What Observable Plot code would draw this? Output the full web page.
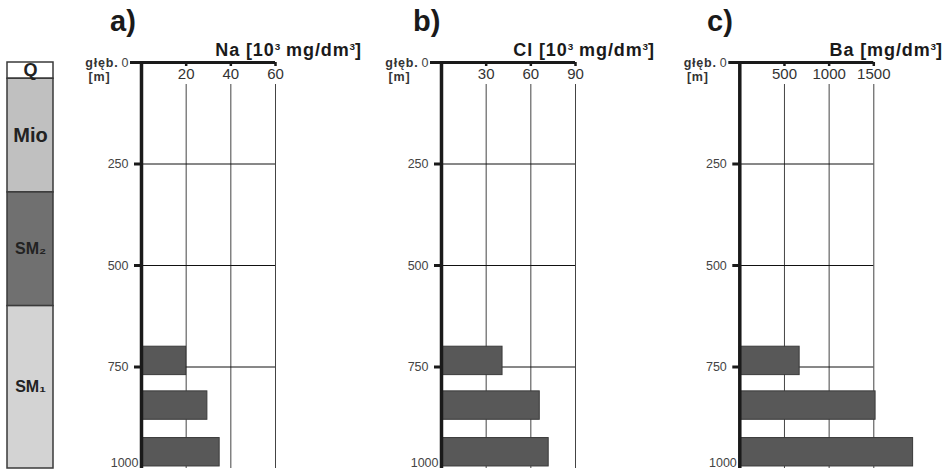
<!DOCTYPE html>
<html>
<head>
<meta charset="utf-8">
<script src="https://cdn.jsdelivr.net/npm/d3@7"></script>
<script src="https://cdn.jsdelivr.net/npm/@observablehq/plot@0.6"></script>
<style>
  html, body { margin: 0; padding: 0; background: #fff; }
  #wrap { position: relative; width: 949px; height: 469px; overflow: hidden; font-family: "Liberation Sans", Arial, sans-serif; }
  #wrap svg { position: absolute; top: 0; }
  .ptitle { position: absolute; font-weight: bold; font-size: 29px; line-height: 1; color: #1a1a1a; }
  .atitle { position: absolute; font-weight: bold; font-size: 18px; line-height: 1; color: #1a1a1a; white-space: nowrap; text-align: right; letter-spacing: 0.9px; }
  .atitle .sup { font-size: 0.55em; position: relative; top: -0.65em; letter-spacing: 0; }
  text.spaced { letter-spacing: 0.8px; }
</style>
</head>
<body>
<div id="wrap"></div>
<script>
// ---- data ----
const depthTop = [700, 810, 925];
const depthBottom = [770, 880, 995];
const naValues = [20, 29.5, 35];
const clValues = [41, 66, 72];
const baValues = [670, 1520, 1940];
const naTicks = [20, 40, 60];
const clTicks = [30, 60, 90];
const baTicks = [500, 1000, 1500];
const depthTicks = [0, 250, 500, 750, 1000];
const stratNames = ["Q", "Mio", "SM\u2082", "SM\u2081"];
const stratTop = [0, 40, 320, 600];
const stratBottom = [40, 320, 600, 1000];

// ---- styles ----
const stratFills = ["#ffffff", "#c0c0c0", "#707070", "#d3d3d3"];
const stratFontSize = [18, 20, 16, 16];
const FONT = "'Liberation Sans', Arial, sans-serif";
const wrap = document.getElementById("wrap");

// stratigraphic column
const strat = stratNames.map((n, i) => ({name: n, top: stratTop[i], bottom: stratBottom[i], mid: (stratTop[i] + stratBottom[i]) / 2, fill: stratFills[i], fs: stratFontSize[i]}));
const stratPlot = Plot.plot({
  width: 60, height: 469, marginTop: 62, marginBottom: 1, marginLeft: 7, marginRight: 7,
  x: {domain: [0, 1], axis: null},
  y: {domain: [0, 1000], reverse: true, axis: null},
  style: {fontFamily: FONT, background: "transparent", overflow: "visible"},
  marks: [
    Plot.rect(strat, {x1: 0, x2: 1, y1: "top", y2: "bottom", fill: d => d.fill, stroke: "#3a3a3a", strokeWidth: 1.5}),
    ...strat.map(d => Plot.text([d], {x: 0.5, y: "mid", text: "name", fontSize: d.fs, fontWeight: "bold", fill: "#222"}))
  ]
});
stratPlot.style.left = "0px";
wrap.appendChild(stratPlot);

function panel(left, width, marginLeft, marginRight, xMax, ticks, values) {
  const rows = values.map((v, i) => ({v, top: depthTop[i], bottom: depthBottom[i]}));
  const inner = depthTicks.filter(d => d > 0 && d < 1000);
  const p = Plot.plot({
    width, height: 469, marginTop: 62, marginBottom: 1, marginLeft, marginRight,
    x: {domain: [0, xMax], axis: null},
    y: {domain: [0, 1000], reverse: true, axis: null},
    style: {fontFamily: FONT, background: "transparent", overflow: "visible"},
    marks: [
      Plot.ruleX(ticks, {stroke: "#444", strokeWidth: 1, insetTop: 22}),
      Plot.ruleY(inner, {x1: 0, x2: xMax, stroke: "#111", strokeWidth: 1}),
      Plot.rect(rows, {x1: 0, x2: "v", y1: "top", y2: "bottom", fill: "#585858", stroke: "#3a3a3a", strokeWidth: 1}),
      Plot.ruleX([0], {stroke: "#1a1a1a", strokeWidth: 3.5}),
      Plot.ruleY([0], {x1: 0, x2: xMax, insetLeft: -11, stroke: "#1a1a1a", strokeWidth: 3}),
      Plot.ruleX(ticks, {y1: 0, y2: 0, insetBottom: -4, stroke: "#1a1a1a", strokeWidth: 2.5}),
      Plot.ruleY(inner, {x1: 0, x2: 0, insetLeft: -7, stroke: "#1a1a1a", strokeWidth: 3}),
      Plot.text(ticks, {x: d => d, y: 0, text: d => String(d), dy: 12, fontSize: 15, fill: "#333"}),
      Plot.text(depthTicks.filter(d => d < 1000), {x: 0, y: d => d, text: d => String(d), dx: -13, textAnchor: "end", fontSize: 12.5, fill: "#444"}),
      Plot.text(depthTicks.filter(d => d === 1000), {x: 0, y: d => d, text: d => String(d), dx: -3, dy: -6, textAnchor: "end", fontSize: 12.5, fill: "#444"}),
      Plot.text(["g\u0142\u0119b."], {x: 0, y: 0, text: d => d, dx: -23, dy: 0, textAnchor: "end", fontSize: 12.5, fontWeight: "bold", fill: "#333"}),
      Plot.text(["[m]"], {x: 0, y: 0, text: d => d, dx: -42, dy: 14, textAnchor: "middle", fontSize: 12.5, fontWeight: "bold", fill: "#333"})
    ]
  });
  p.querySelectorAll("text").forEach(t => {
    if (t.textContent === "g\u0142\u0119b." || t.textContent === "[m]") t.classList.add("spaced");
  });
  p.style.left = left + "px";
  wrap.appendChild(p);
}

panel(60, 305, 81, 90, 60, naTicks, naValues);
panel(365, 300, 76, 90, 90, clTicks, clValues);
panel(665, 284, 74.3, 75.7, 1500, baTicks, baValues);

// titles
function addTitle(text, left, top) {
  const d = document.createElement("div");
  d.className = "ptitle"; d.textContent = text;
  d.style.left = left + "px"; d.style.top = top + "px";
  wrap.appendChild(d);
}
addTitle("a)", 110, 7);
addTitle("b)", 413, 7);
addTitle("c)", 707, 7);

function addAxisTitle(parts, right, top) {
  const d = document.createElement("div");
  d.className = "atitle";
  parts.forEach(([t, sup]) => {
    const s = document.createElement("span");
    s.textContent = t;
    if (sup) s.className = "sup";
    d.appendChild(s);
  });
  d.style.right = (949 - right) + "px"; d.style.top = top + "px";
  wrap.appendChild(d);
}
addAxisTitle([["Na [10"], ["3", true], [" mg/dm"], ["3", true], ["]"]], 362, 41);
addAxisTitle([["Cl [10"], ["3", true], [" mg/dm"], ["3", true], ["]"]], 655, 41);
addAxisTitle([["Ba [mg/dm"], ["3", true], ["]"]], 943, 41);
</script>
</body>
</html>
